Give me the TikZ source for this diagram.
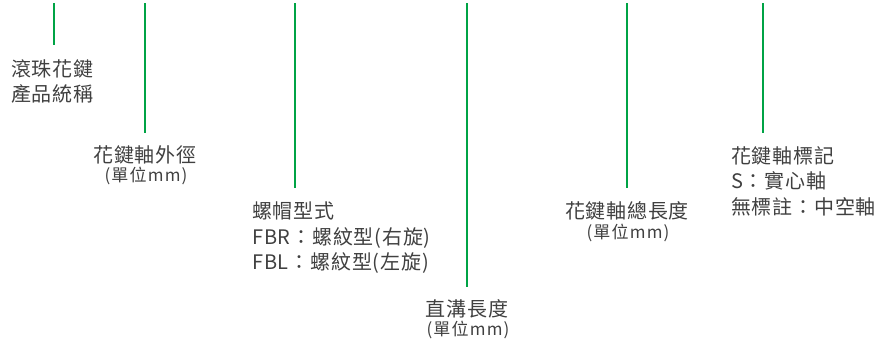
\documentclass[tikz,border=0pt]{standalone}
\usepackage{fontspec}
\setmainfont{Noto Sans CJK TC}
\newfontfamily\lblfont[LetterSpace=4]{Noto Sans CJK TC}
\newfontfamily\unitfont[LetterSpace=7]{Noto Sans CJK TC}
\begin{document}
\begin{tikzpicture}[x=1pt,y=-1pt,
  lead/.style={draw=leadgreen,line width=2.6pt},
  lbl/.style={text=txtgray,font=\lblfont\fontsize{20}{25.5}\selectfont,inner sep=0pt,align=left},
  clbl/.style={text=txtgray,font=\lblfont\fontsize{20}{25.5}\selectfont,inner sep=0pt,align=center},
  unit/.style={text=txtgray,font=\unitfont\fontsize{17}{19}\selectfont,inner sep=0pt}]
\definecolor{leadgreen}{HTML}{00A345}
\definecolor{txtgray}{HTML}{404040}
\useasboundingbox (0,0) rectangle (886,349);
% leader lines
\coordinate (t1) at (54,3);  \coordinate (b1) at (54,45);
\coordinate (t2) at (145,3); \coordinate (b2) at (145,133);
\coordinate (t3) at (295,3); \coordinate (b3) at (295,188);
\coordinate (t4) at (467,3); \coordinate (b4) at (467,287);
\coordinate (t5) at (627,3); \coordinate (b5) at (627,188);
\coordinate (t6) at (763,3); \coordinate (b6) at (763,133);
\foreach \i in {1,...,6} \draw[lead] (t\i) -- (b\i);
% labels
\node[lbl,anchor=north west] (l1) at (11,59) {滾珠花鍵\\產品統稱};
\node[clbl,anchor=north] (l2) at (145,145) {花鍵軸外徑};
\node[unit,anchor=north] (u2) at (146,167) {(單位mm)};
\node[lbl,anchor=north west] (l3) at (252,202) {螺帽型式\\FBR：螺紋型(右旋)\\FBL：螺紋型(左旋)};
\node[clbl,anchor=north] (l4) at (467,299) {直溝長度};
\node[unit,anchor=north] (u4) at (468,321) {(單位mm)};
\node[clbl,anchor=north] (l5) at (627,201) {花鍵軸總長度};
\node[unit,anchor=north] (u5) at (628,224) {(單位mm)};
\node[lbl,anchor=north west] (l6) at (731,146) {花鍵軸標記\\S：實心軸\\無標註：中空軸};
\end{tikzpicture}
\end{document}
